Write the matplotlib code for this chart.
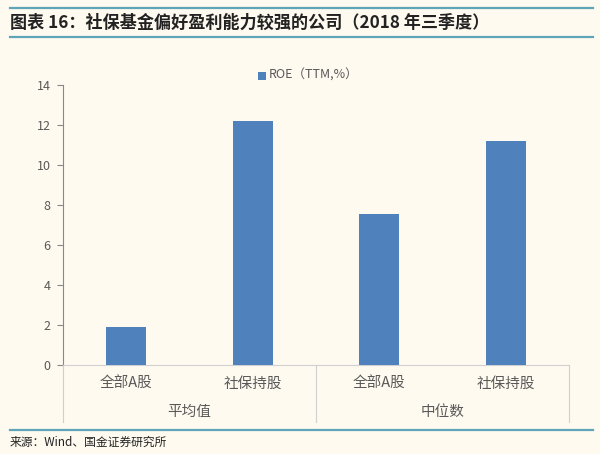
import matplotlib
matplotlib.use("Agg")
import matplotlib.pyplot as plt
from matplotlib.lines import Line2D
from matplotlib.patches import Rectangle

plt.rcParams['font.family'] = ['Noto Sans CJK SC', 'DejaVu Sans']

categories = ["全部A股", "社保持股", "全部A股", "社保持股"]
groups = ["平均值", "中位数"]
roe_values = [1.92, 12.2, 7.53, 11.2]
yticks = [0, 2, 4, 6, 8, 10, 12, 14]
legend_label = "ROE（TTM,%）"
title = "图表 16：社保基金偏好盈利能力较强的公司（2018 年三季度）"
source = "来源：Wind、国金证券研究所"

bg = "#FEFAF0"
bar_color = "#4F81BD"
rule_color = "#5DA5B9"
text_color = "#595959"

fig = plt.figure(figsize=(6.0, 4.54), dpi=100, facecolor=bg)
ax = fig.add_axes([63/600, 1-365/454, 506/600, 280/454], facecolor=bg)

x = list(range(len(categories)))
ax.bar(x, roe_values, width=0.315, color=bar_color, zorder=3)
ax.set_xlim(-0.5, len(categories) - 0.5)
ax.set_ylim(0, 14)
ax.set_yticks(yticks)
ax.set_yticklabels([str(t) for t in yticks], fontsize=9, color=text_color)
ax.tick_params(axis='y', direction='out', length=4, width=0.8, color="#888888", pad=5)
ax.set_xticks([])
for s in ["top", "right"]:
    ax.spines[s].set_visible(False)
ax.spines["left"].set_color("#888888")
ax.spines["left"].set_linewidth(0.8)
ax.spines["bottom"].set_color("#D0D0D0")
ax.spines["bottom"].set_linewidth(0.8)

tr = ax.get_xaxis_transform()
# category labels
for xi, c in zip(x, categories):
    ax.text(xi, -19/280, c, transform=tr, ha='center', va='center',
            fontsize=10.5, color=text_color)
# group labels and separators
n_per = len(categories) // len(groups)
for gi, g in enumerate(groups):
    center = gi * n_per + (n_per - 1) / 2
    ax.text(center, -47/280, g, transform=tr, ha='center', va='center',
            fontsize=10.5, color=text_color)
for b in [-0.5 + k * n_per for k in range(len(groups) + 1)]:
    ax.add_line(Line2D([b, b], [0, -57/280], transform=tr, color="#D0D0D0",
                       lw=0.8, clip_on=False))

# legend
fig.patches.append(Rectangle((258/600, 1-80/454), 8/600, 8/454, transform=fig.transFigure,
                             facecolor=bar_color, edgecolor='none'))
fig.text(269/600, 1-75/454, legend_label, ha='left', va='center', fontsize=9, color=text_color)

# title and rules
fig.add_artist(Line2D([10/600, 593/600], [1-8/454, 1-8/454], transform=fig.transFigure,
                      color=rule_color, lw=1.6))
fig.add_artist(Line2D([10/600, 593/600], [1-37/454, 1-37/454], transform=fig.transFigure,
                      color=rule_color, lw=1.6))
fig.text(10/600, 1-22.5/454, title, ha='left', va='center', fontsize=12.3,
         fontweight='bold', fontstyle='italic', color="#222222")
fig.add_artist(Line2D([10/600, 593/600], [1-430/454, 1-430/454], transform=fig.transFigure,
                      color=rule_color, lw=1.6))
fig.text(10/600, 1-442/454, source, ha='left', va='center', fontsize=8.5, color="#222222")

fig.savefig("out.png", dpi=100, facecolor=bg)
